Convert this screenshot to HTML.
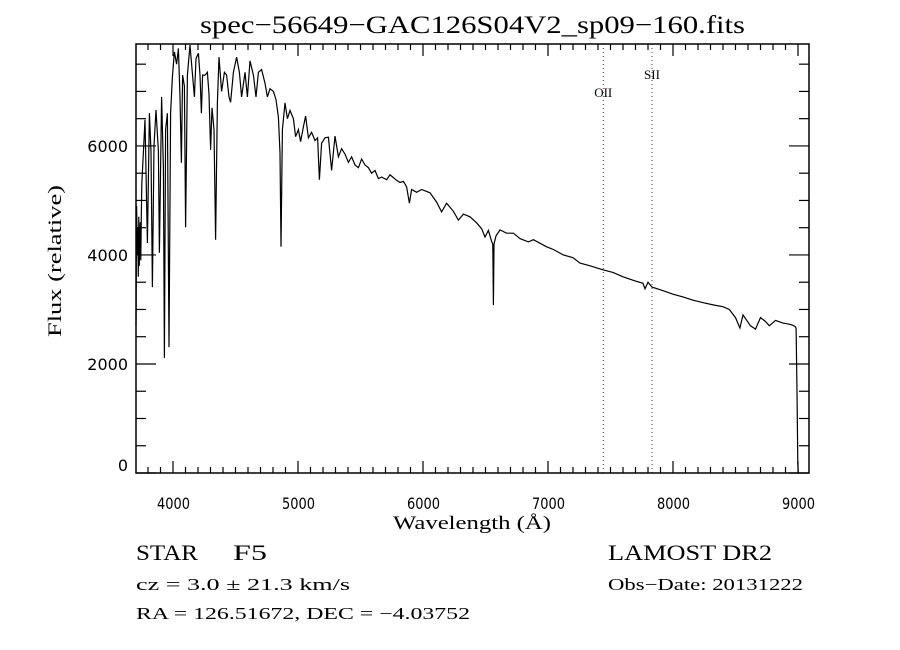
<!DOCTYPE html>
<html><head><meta charset="utf-8"><style>
html,body{margin:0;padding:0;background:#fff;}
svg{display:block;}
text{font-family:"Liberation Serif",serif;fill:#000;}
.tk{font-family:"DejaVu Sans","Liberation Sans",sans-serif;font-size:16px;}
</style></head><body>
<svg id="chart" width="900" height="650" viewBox="0 0 900 650" xmlns="http://www.w3.org/2000/svg">
<rect width="900" height="650" fill="#fff"/>
<text x="200" y="33" font-size="25" textLength="545" lengthAdjust="spacingAndGlyphs">spec−56649−GAC126S04V2_sp09−160.fits</text>
<g id="plot"></g>
<text x="393" y="529" font-size="19" textLength="158" lengthAdjust="spacingAndGlyphs">Wavelength (Å)</text>
<text transform="translate(61,337) rotate(-90)" font-size="19" textLength="152" lengthAdjust="spacingAndGlyphs">Flux (relative)</text>
<text x="136" y="560" font-size="22" textLength="62" lengthAdjust="spacingAndGlyphs">STAR</text>
<text x="233" y="560" font-size="22" textLength="34" lengthAdjust="spacingAndGlyphs">F5</text>
<text x="136" y="590" font-size="17" textLength="214" lengthAdjust="spacingAndGlyphs">cz = 3.0 ± 21.3 km/s</text>
<text x="136" y="619" font-size="17" textLength="334" lengthAdjust="spacingAndGlyphs">RA = 126.51672, DEC =  −4.03752</text>
<text x="608" y="560" font-size="22" textLength="164" lengthAdjust="spacingAndGlyphs">LAMOST DR2</text>
<text x="608" y="590" font-size="17" textLength="195" lengthAdjust="spacingAndGlyphs">Obs−Date: 20131222</text>
</svg>
<script>
const wavelengths=[3704,3709,3714,3718,3722,3726,3730,3734,3738,3742,3746,3750,3776,3795,3811,3824,3835,3848,3864,3883,3891,3909,3923,3931,3941,3955,3968,3981,3995,4011,4029,4043,4056,4067,4077,4091,4101,4115,4136,4149,4171,4184,4203,4216,4227,4237,4256,4275,4288,4301,4312,4328,4341,4355,4368,4389,4411,4429,4448,4461,4483,4509,4531,4549,4576,4595,4616,4643,4664,4683,4709,4736,4755,4776,4803,4824,4843,4856,4864,4875,4896,4915,4936,4963,4981,5003,5021,5043,5061,5083,5109,5136,5157,5171,5189,5216,5243,5269,5296,5323,5349,5376,5403,5429,5456,5483,5509,5536,5563,5589,5616,5643,5669,5709,5736,5763,5789,5816,5843,5869,5891,5909,5949,5989,6056,6109,6149,6189,6243,6283,6323,6376,6429,6470,6496,6523,6549,6558,6563,6568,6584,6616,6669,6723,6776,6843,6883,6989,7043,7123,7200,7256,7340,7442,7520,7600,7700,7760,7776,7800,7832,7900,8000,8080,8160,8250,8330,8400,8450,8500,8535,8560,8620,8660,8700,8740,8770,8820,8880,8930,8960,8980,8985,8992,8998,9002];
const fluxes=[2700,4900,4000,4500,3600,4700,3800,4300,4600,3900,4700,5300,6480,4220,6600,5900,3410,6000,6660,5900,4040,6900,5600,2110,6300,6600,2310,6600,7270,7725,7500,7790,6900,5690,7300,7100,4510,7300,7850,7500,6900,7600,7700,7300,6600,7300,7300,7350,6950,5930,6700,6300,4280,6800,7630,7000,7350,7300,6900,6800,7350,7630,7350,6900,7350,6900,7560,7300,6900,7350,7400,7150,6900,7050,7000,6850,6530,5870,4150,6300,6790,6500,6650,6500,6170,6300,6080,6350,6550,6150,6250,6100,6150,5380,6050,6150,6160,5550,6180,5800,5950,5850,5700,5800,5650,5600,5760,5650,5600,5500,5550,5400,5430,5380,5470,5420,5370,5330,5350,5250,4950,5200,5150,5200,5140,4970,4790,4950,4800,4640,4750,4700,4590,4480,4330,4450,4250,4200,3080,4200,4350,4460,4400,4400,4300,4240,4280,4150,4100,4000,3950,3850,3800,3725,3680,3600,3520,3480,3380,3500,3410,3360,3280,3230,3170,3120,3080,3050,3000,2850,2660,2900,2700,2640,2850,2780,2700,2800,2750,2730,2710,2680,2650,1500,180,0];
const yTicks=[0,2000,4000,6000];
const xTicks=[4000,5000,6000,7000,8000,9000];
const lines=[{name:"OII",w:7442,ly:97},{name:"SII",w:7832,ly:79}];

const X0=136,X1=809,Y0=44,Y1=473;
const WMIN=3704,WMAX=9088,FMIN=0,FMAX=7870;
const xs=w=>X0+(w-WMIN)/(WMAX-WMIN)*(X1-X0);
const ys=f=>Y1-(f-FMIN)/(FMAX-FMIN)*(Y1-Y0);
const NS="http://www.w3.org/2000/svg";
const plot=document.getElementById('plot');
function mk(tag,attrs,parent){const e=document.createElementNS(NS,tag);for(const k in attrs)e.setAttribute(k,attrs[k]);(parent||plot).appendChild(e);return e;}

lines.forEach(l=>{
  const ln=mk('line',{x1:xs(l.w),x2:xs(l.w),y1:Y0,y2:Y1,stroke:'#8b1a1a','stroke-width':1,'stroke-dasharray':'1,3'});
  
  
  const t=mk('text',{x:xs(l.w),y:l.ly,'font-size':13,'text-anchor':'middle'});
  t.textContent=l.name;
  
  
});

const n=Math.min(wavelengths.length,fluxes.length);
const pts=[];
for(let i=0;i<n;i++)pts.push(xs(wavelengths[i]).toFixed(1)+','+ys(fluxes[i]).toFixed(1));
const pl=mk('polyline',{points:pts.join(' '),fill:'none',stroke:'#000','stroke-width':1.2});



const fr=mk('rect',{x:X0,y:Y0,width:X1-X0,height:Y1-Y0,fill:'none',stroke:'#000','stroke-width':1.5});



const tg=mk('g',{stroke:'#000','stroke-width':1.2});


for(let w=3800;w<=9000;w+=100){
  const major=w%1000===0, L=major?12:6, x=xs(w);
  mk('line',{x1:x,x2:x,y1:Y1,y2:Y1-L},tg);
  mk('line',{x1:x,x2:x,y1:Y0,y2:Y0+L},tg);
}
for(let f=0;f<=7500;f+=500){
  const major=f%2000===0, L=major?20:10, y=ys(f);
  mk('line',{x1:X0,x2:X0+L,y1:y,y2:y},tg);
  mk('line',{x1:X1,x2:X1-L,y1:y,y2:y},tg);
}
xTicks.forEach(w=>{
  const t=mk('text',{x:xs(w)-16,y:509,class:'tk',textLength:33,lengthAdjust:'spacingAndGlyphs'});
  t.textContent=w;
  
  
});
yTicks.forEach(f=>{
  const t=mk('text',{x:128,y:Math.min(ys(f)+6,471),class:'tk','text-anchor':'end'});
  t.textContent=f;
  
  
});
</script>
</body></html>
